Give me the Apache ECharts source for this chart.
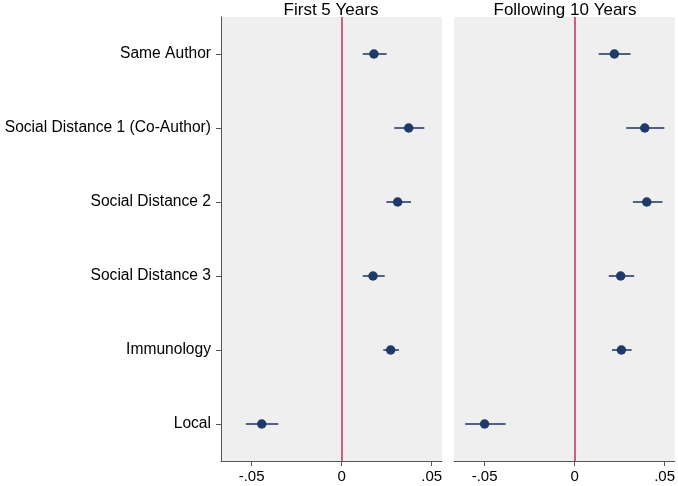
<!DOCTYPE html>
<html>
<head>
<meta charset="utf-8">
<script src="https://cdn.jsdelivr.net/npm/echarts@6/dist/echarts.min.js"></script>
<style>html,body{margin:0;padding:0;background:#fff}#c{width:678px;height:486px}</style>
</head>
<body>
<div id="c"></div>
<script>
const categories = ["Same Author", "Social Distance 1 (Co-Author)", "Social Distance 2", "Social Distance 3", "Immunology", "Local"];
const panelTitles = ["First 5 Years", "Following 10 Years"];
const first5Est = [0.0179, 0.0372, 0.0311, 0.0174, 0.0272, -0.0444];
const first5Lo  = [0.0117, 0.0292, 0.0248, 0.0117, 0.0231, -0.0532];
const first5Hi  = [0.0250, 0.0459, 0.0385, 0.0239, 0.0318, -0.0352];
const next10Est = [0.0221, 0.0390, 0.0401, 0.0256, 0.0260, -0.0500];
const next10Lo  = [0.0134, 0.0287, 0.0324, 0.0190, 0.0208, -0.0608];
const next10Hi  = [0.0311, 0.0499, 0.0488, 0.0331, 0.0317, -0.0383];
const xTicks = [-0.05, 0, 0.05];

const chart = echarts.init(document.getElementById('c'));
const font = 'Liberation Sans, Arial, Helvetica, sans-serif';
const dotColor = '#1f3a68';
const ciColor = '#4f6189';
const refColor = '#c2305a';

function fmt(v){ if (v === 0) return '0'; return String(v).replace('0.', '.'); }

function xAxis(i){
  return {
    type: 'value', gridIndex: i, min: -0.067, max: 0.0557,
    splitLine: {show: false},
    axisLine: {show: true, onZero: false, lineStyle: {color: '#555', width: 1}},
    axisTick: {show: true, length: 5, customValues: xTicks, lineStyle: {color: '#555', width: 1}},
    axisLabel: {customValues: xTicks, formatter: fmt, fontSize: 15, color: '#000', fontFamily: font, margin: 8}
  };
}
function yAxis(i){
  return {
    type: 'category', gridIndex: i, data: categories, inverse: true,
    axisLine: {show: i === 0, onZero: false, lineStyle: {color: '#555', width: 1}},
    axisTick: {show: i === 0, length: 5, alignWithLabel: true, lineStyle: {color: '#555'}},
    axisLabel: {show: i === 0, fontSize: 15.6, color: '#000', fontFamily: font, margin: 10},
    splitLine: {show: false}
  };
}
function ciSeries(i, lo, hi){
  return {
    type: 'custom', xAxisIndex: i, yAxisIndex: i, silent: true, z: 3,
    data: categories.map((c, k) => [lo[k], hi[k], c]),
    encode: {x: [0, 1], y: 2},
    renderItem: function(params, api){
      const a = api.coord([api.value(0), api.value(2)]);
      const b = api.coord([api.value(1), api.value(2)]);
      return {type: 'line', shape: {x1: a[0], y1: a[1], x2: b[0], y2: b[1]},
        style: {stroke: ciColor, lineWidth: 2}};
    }
  };
}
function dotSeries(i, est){
  return {
    type: 'scatter', xAxisIndex: i, yAxisIndex: i, z: 4,
    data: categories.map((c, k) => [est[k], c]),
    symbol: 'circle', symbolSize: 9.5,
    itemStyle: {color: dotColor, opacity: 1},
    markLine: {silent: true, symbol: 'none', label: {show: false}, z: 2,
      lineStyle: {color: refColor, width: 1.5, type: 'solid'},
      data: [{xAxis: 0}], animation: false}
  };
}

chart.setOption({
  animation: false,
  backgroundColor: '#fff',
  title: [
    {text: panelTitles[0], left: 326, top: -3, textAlign: 'center', textStyle: {fontSize: 17, fontWeight: 'normal', color: '#000', fontFamily: font}},
    {text: panelTitles[1], left: 560, top: -3, textAlign: 'center', textStyle: {fontSize: 17, fontWeight: 'normal', color: '#000', fontFamily: font}}
  ],
  grid: [
    {left: 221, right: 236, top: 17, bottom: 25, show: true, backgroundColor: '#efefef', borderWidth: 0},
    {left: 454, right: 3, top: 17, bottom: 25, show: true, backgroundColor: '#efefef', borderWidth: 0}
  ],
  xAxis: [xAxis(0), xAxis(1)],
  yAxis: [yAxis(0), yAxis(1)],
  series: [
    ciSeries(0, first5Lo, first5Hi), dotSeries(0, first5Est),
    ciSeries(1, next10Lo, next10Hi), dotSeries(1, next10Est)
  ]
});
</script>
</body>
</html>
